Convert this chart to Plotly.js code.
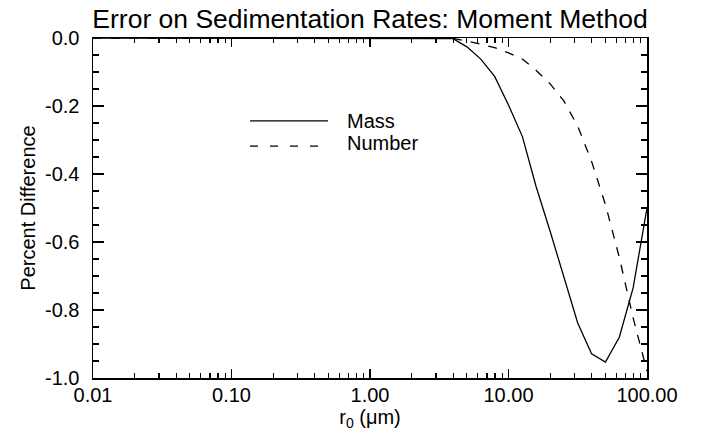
<!DOCTYPE html>
<html>
<head>
<meta charset="utf-8">
<script src="https://cdn.plot.ly/plotly-3.0.1.min.js"></script>
<style>html,body{margin:0;padding:0;background:#fff;}#chart{width:702px;height:434px;}</style>
</head>
<body>
<div id="chart"></div>
<script>
// Data
var radius = [0.01, 0.1, 1.0, 3.16, 3.98, 5.01, 6.31, 7.94, 10.0, 12.6, 15.8, 20.0, 25.1, 31.6, 39.8, 50.1, 63.1, 79.4, 100.0];
var massDiff = [0, 0, 0, 0, -0.002, -0.026, -0.062, -0.113, -0.197, -0.29, -0.436, -0.569, -0.701, -0.838, -0.929, -0.953, -0.88, -0.735, -0.50];
var numberDiff = [0, 0, 0, 0, -0.001, -0.009, -0.018, -0.028, -0.044, -0.062, -0.095, -0.135, -0.185, -0.259, -0.363, -0.49, -0.645, -0.823, -0.98];
var xTickVals = [0.01, 0.1, 1, 10, 100];
var xTickText = ["0.01", "0.10", "1.00", "10.00", "100.00"];
var yTickVals = [0, -0.2, -0.4, -0.6, -0.8, -1.0];
var yTickText = ["0.0", "-0.2", "-0.4", "-0.6", "-0.8", "-1.0"];
var seriesNames = ["Mass", "Number"];

var xMinor = [];
[0.01, 0.1, 1, 10].forEach(function (d) { for (var m = 2; m <= 9; m++) xMinor.push(d * m); });
var yMinor = [];
for (var i = 1; i < 20; i++) { if (i % 4 !== 0) yMinor.push(-i * 0.05); }

var font = "'Liberation Sans', Arial, Helvetica, sans-serif";
var dashPat = "9px,9px";

var traces = [
  {x: radius, y: massDiff, type: 'scatter', mode: 'lines', name: seriesNames[0],
   line: {color: 'black', width: 1.3}},
  {x: radius, y: numberDiff, type: 'scatter', mode: 'lines', name: seriesNames[1],
   line: {color: 'black', width: 1.3, dash: dashPat}}
];

var layout = {
  width: 702, height: 434,
  margin: {l: 93, r: 55, t: 38, b: 56},
  paper_bgcolor: 'white', plot_bgcolor: 'white',
  showlegend: false,
  font: {family: font, color: 'black', size: 20},
  title: {text: 'Error on Sedimentation Rates: Moment Method', font: {family: font, size: 26.5, color: 'black'},
          x: 0.5, xref: 'paper', y: 0.958, yanchor: 'middle'},
  xaxis: {
    type: 'log', range: [-2, 2], showgrid: false, zeroline: false,
    showline: true, linecolor: 'black', linewidth: 1.5, mirror: 'ticks',
    ticks: 'inside', ticklen: 9, tickwidth: 1.2, tickcolor: 'black',
    tickmode: 'array', tickvals: xTickVals, ticktext: xTickText,
    tickfont: {family: font, size: 20, color: 'black'}, ticklabelstandoff: -2,
    minor: {tickmode: 'array', tickvals: xMinor, ticks: 'inside', ticklen: 5, tickwidth: 1.2, tickcolor: 'black', showgrid: false},
    title: {text: 'r<sub>0</sub> (\u03bcm)', font: {family: font, size: 20, color: 'black'}, standoff: 4}
  },
  yaxis: {
    range: [-1, 0], showgrid: false, zeroline: false,
    showline: true, linecolor: 'black', linewidth: 1.5, mirror: 'ticks',
    ticks: 'inside', ticklen: 11, tickwidth: 1.2, tickcolor: 'black',
    tickmode: 'array', tickvals: yTickVals, ticktext: yTickText,
    tickfont: {family: font, size: 20, color: 'black'}, ticklabelstandoff: 8,
    minor: {tickmode: 'array', tickvals: yMinor, ticks: 'inside', ticklen: 6, tickwidth: 1.2, tickcolor: 'black', showgrid: false},
    title: {text: 'Percent Difference', font: {family: font, size: 20, color: 'black'}, standoff: 4}
  },
  shapes: [
    {type: 'line', xref: 'paper', yref: 'paper', x0: 0.2834, x1: 0.4242, y0: 0.756, y1: 0.756,
     line: {color: 'black', width: 1.3}},
    {type: 'line', xref: 'paper', yref: 'paper', x0: 0.2834, x1: 0.4242, y0: 0.682, y1: 0.682,
     line: {color: 'black', width: 1.3, dash: '8px,12px'}}
  ],
  annotations: [
    {text: seriesNames[0], xref: 'paper', yref: 'paper', x: 0.4549, y: 0.756, xanchor: 'left', yanchor: 'middle',
     showarrow: false, font: {family: font, size: 20, color: 'black'}},
    {text: seriesNames[1], xref: 'paper', yref: 'paper', x: 0.4549, y: 0.69, xanchor: 'left', yanchor: 'middle',
     showarrow: false, font: {family: font, size: 20, color: 'black'}}
  ]
};

Plotly.newPlot('chart', traces, layout, {displayModeBar: false, staticPlot: true});
</script>
</body>
</html>
